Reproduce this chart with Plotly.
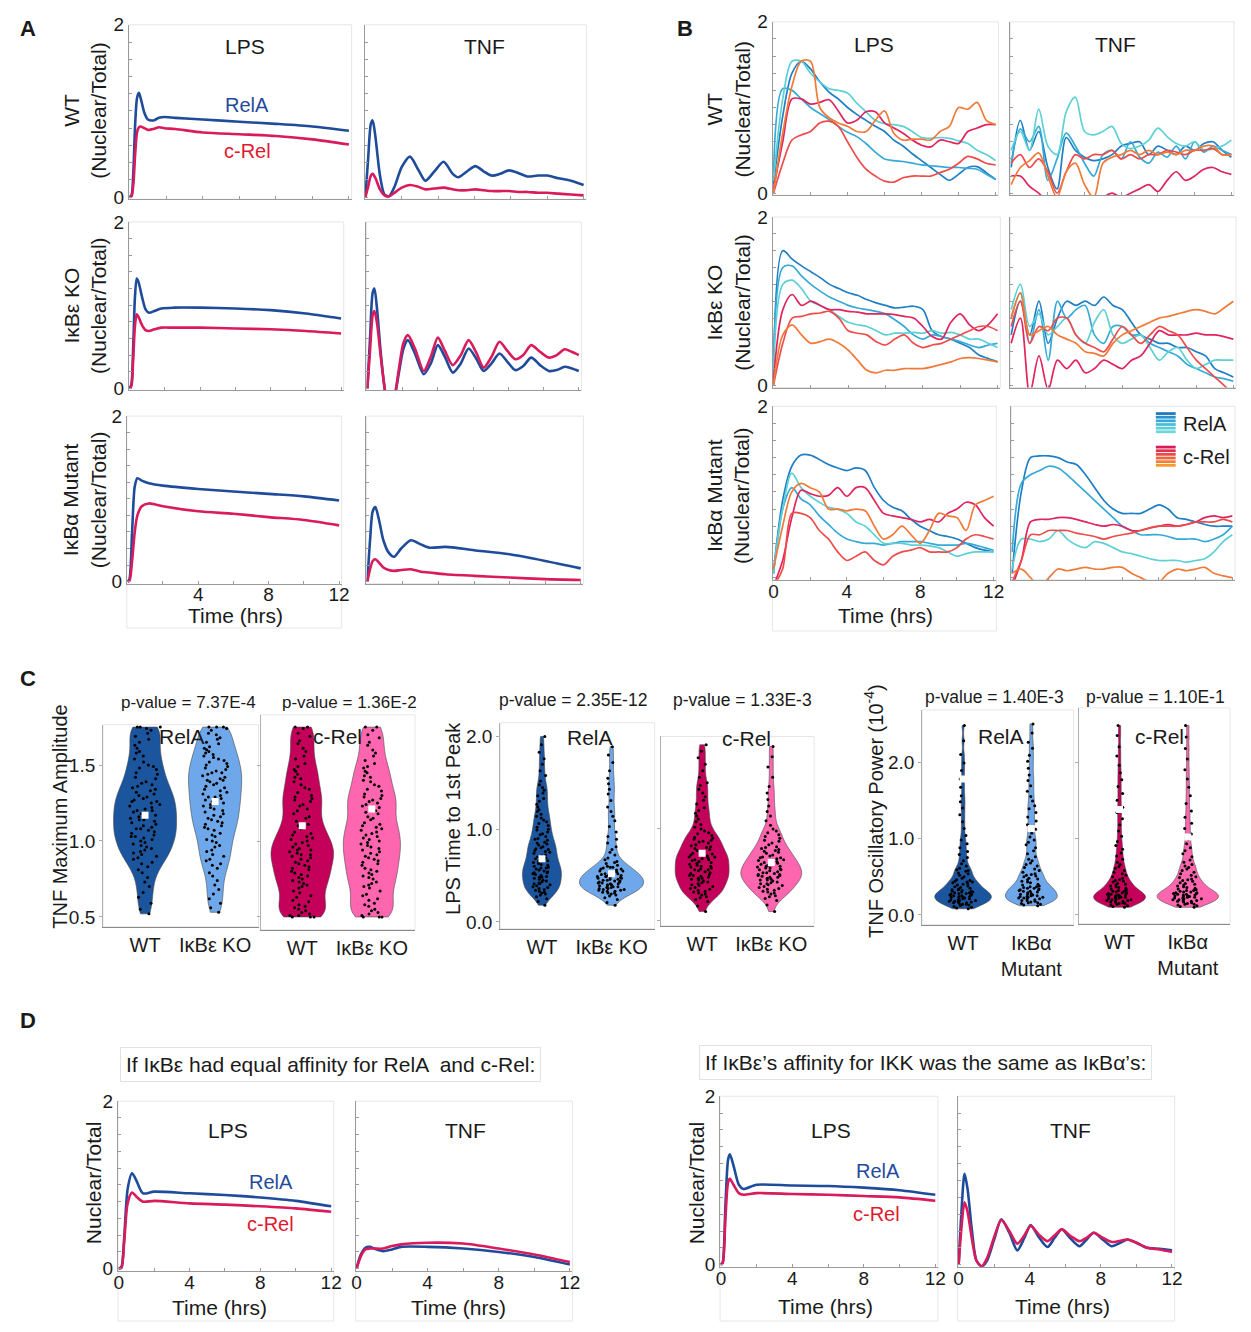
import plotly.graph_objects as go

W, H = 1251, 1332
FONT = "Liberation Sans, Arial, sans-serif"
INK = '#1a1a1a'
RELA_COLOR = '#1f4b9b'
CREL_COLOR = '#d91a5c'
CREL_TEXT = '#e0192f'
RELA_SHADES = ['#1f7fc4', '#35aad6', '#5dd0d6']
CREL_SHADES = ['#e0245e', '#ef4b4b', '#f27a38']
VIO_COLORS = {'rela_wt': '#1b559e', 'rela_mut': '#6fa8ea', 'crel_wt': '#c4005a', 'crel_mut': '#ff66b0'}

# ---------------- tick values / labels ----------------
Y_TICKS = [0, 0.2, 0.4, 0.6, 0.8, 1.0, 1.2, 1.4, 1.6, 1.8, 2.0]
Y_LABELS = ['0', '', '', '', '', '', '', '', '', '', '2']
Y_LABELS_TOP = ['', '', '', '', '', '', '', '', '', '', '2']
X_TICKS = [0, 2, 4, 6, 8, 10, 12]
X_LABELS_NO0 = ['', '', '4', '', '8', '', '12']
X_LABELS = ['0', '', '4', '', '8', '', '12']

# ---------------- Panel A : simulations ----------------
A_WT_LPS_T = [0, 0.1, 0.2, 0.3, 0.4, 0.5, 0.6, 0.8, 1.0, 1.3, 1.6, 1.9, 2.5, 4, 6, 8, 10, 12]
A_WT_LPS_RELA = [0, 0.02, 0.3, 0.85, 1.15, 1.21, 1.15, 0.98, 0.9, 0.89, 0.92, 0.93, 0.92, 0.9, 0.875, 0.85, 0.82, 0.77]
A_WT_LPS_CREL = [0, 0.01, 0.15, 0.5, 0.75, 0.81, 0.82, 0.8, 0.78, 0.79, 0.81, 0.8, 0.79, 0.75, 0.73, 0.71, 0.67, 0.61]

A_WT_TNF_T = [0, 0.15, 0.3, 0.4, 0.55, 0.8, 1.05, 1.3, 1.6, 2.0, 2.45, 2.9, 3.3, 3.8, 4.3, 4.8, 5.1, 5.6, 6.05, 6.5, 6.95, 7.4, 7.9, 8.4, 8.9, 9.5, 10, 10.6, 11.3, 12]
A_WT_TNF_RELA = [0, 0.45, 0.85, 0.89, 0.7, 0.25, 0.03, 0.01, 0.12, 0.35, 0.47, 0.32, 0.19, 0.3, 0.41, 0.27, 0.23, 0.3, 0.36, 0.3, 0.25, 0.27, 0.31, 0.28, 0.24, 0.25, 0.25, 0.22, 0.19, 0.14]
A_WT_TNF_CREL = [0, 0.12, 0.25, 0.27, 0.22, 0.09, 0.02, 0.01, 0.05, 0.11, 0.14, 0.12, 0.09, 0.1, 0.11, 0.09, 0.08, 0.08, 0.09, 0.08, 0.07, 0.07, 0.07, 0.06, 0.06, 0.05, 0.05, 0.04, 0.03, 0.02]

A_KO_LPS_T = [0, 0.1, 0.2, 0.3, 0.4, 0.5, 0.7, 0.9, 1.1, 1.4, 1.8, 2.5, 4, 6, 8, 10, 12]
A_KO_LPS_RELA = [0, 0.05, 0.5, 1.1, 1.32, 1.28, 1.1, 0.95, 0.91, 0.93, 0.96, 0.97, 0.97, 0.96, 0.94, 0.9, 0.84]
A_KO_LPS_CREL = [0, 0.03, 0.35, 0.75, 0.89, 0.86, 0.76, 0.7, 0.69, 0.71, 0.73, 0.73, 0.73, 0.72, 0.71, 0.69, 0.66]

A_KO_TNF_T = [0, 0.15, 0.3, 0.4, 0.55, 0.75, 0.95, 1.15, 1.35, 1.55, 1.8, 2.05, 2.3, 2.7, 3.2, 3.6, 4.0, 4.4, 4.85, 5.3, 5.75, 6.2, 6.6, 7.05, 7.5, 7.95, 8.4, 8.85, 9.3, 9.8, 10.3, 10.75, 11.2, 11.6, 12]
A_KO_TNF_RELA = [0, 0.6, 1.15, 1.2, 0.95, 0.45, 0.05, -0.2, -0.25, -0.1, 0.2, 0.48, 0.58, 0.42, 0.17, 0.3, 0.52, 0.38, 0.19, 0.3, 0.48, 0.35, 0.21, 0.3, 0.42, 0.32, 0.22, 0.27, 0.37, 0.28, 0.21, 0.22, 0.26, 0.24, 0.21]
A_KO_TNF_CREL = [0, 0.45, 0.88, 0.93, 0.78, 0.4, 0.05, -0.2, -0.25, -0.1, 0.25, 0.55, 0.64, 0.48, 0.21, 0.38, 0.61, 0.45, 0.28, 0.4, 0.58, 0.42, 0.25, 0.38, 0.56, 0.45, 0.35, 0.4, 0.52, 0.44, 0.37, 0.4, 0.47, 0.44, 0.4]

A_MUT_LPS_T = [0, 0.1, 0.25, 0.4, 0.55, 0.8, 1.2, 2, 4, 6, 8, 10, 12]
A_MUT_LPS_RELA = [0, 0.03, 0.6, 1.15, 1.25, 1.22, 1.19, 1.16, 1.12, 1.09, 1.06, 1.03, 0.98]
A_MUT_LPS_CREL = [0, 0.01, 0.25, 0.6, 0.8, 0.91, 0.945, 0.91, 0.85, 0.82, 0.78, 0.745, 0.68]

A_MUT_TNF_T = [0, 0.15, 0.3, 0.45, 0.65, 0.9, 1.2, 1.5, 1.9, 2.45, 3.0, 3.5, 4.4, 6, 8, 10, 12]
A_MUT_TNF_RELA = [0, 0.5, 0.85, 0.9, 0.75, 0.5, 0.35, 0.3, 0.4, 0.5, 0.45, 0.41, 0.42, 0.38, 0.33, 0.25, 0.16]
A_MUT_TNF_CREL = [0, 0.15, 0.25, 0.27, 0.23, 0.17, 0.14, 0.13, 0.14, 0.15, 0.12, 0.11, 0.09, 0.07, 0.05, 0.03, 0.02]

# ---------------- Panel B : single-cell traces ----------------
B_T = [0, 0.5, 1, 1.5, 2, 2.5, 3, 3.5, 4, 4.5, 5, 5.5, 6, 6.5, 7, 7.5, 8, 8.5, 9, 9.5, 10, 10.5, 11, 11.5, 12]

B_WT_LPS_RELA = [
    [0.1, 0.9, 1.4, 1.54, 1.45, 1.3, 1.18, 1.1, 1.0, 0.92, 0.85, 0.78, 0.72, 0.62, 0.55, 0.46, 0.38, 0.3, 0.22, 0.15, 0.22, 0.3, 0.31, 0.24, 0.16],
    [0.2, 1.22, 1.2, 1.1, 1.0, 0.93, 0.86, 0.78, 0.71, 0.66, 0.58, 0.48, 0.4, 0.38, 0.37, 0.35, 0.33, 0.32, 0.31, 0.3, 0.3, 0.29, 0.28, 0.22, 0.16],
    [0.15, 1.1, 1.54, 1.54, 1.4, 1.3, 1.22, 1.2, 1.17, 1.05, 0.95, 0.85, 0.81, 0.8, 0.78, 0.72, 0.65, 0.64, 0.65, 0.64, 0.61, 0.58, 0.5, 0.45, 0.38]]
B_WT_LPS_CREL = [
    [0.05, 0.6, 1.1, 1.1, 1.04, 1.06, 1.09, 0.96, 0.82, 0.85, 0.95, 0.95, 0.82, 0.76, 0.7, 0.62, 0.56, 0.54, 0.62, 0.6, 0.58, 0.72, 0.76, 0.8, 0.8],
    [0.0, 0.35, 0.62, 0.68, 0.72, 0.82, 0.84, 0.78, 0.6, 0.42, 0.28, 0.2, 0.14, 0.13, 0.18, 0.2, 0.2, 0.2, 0.24, 0.28, 0.35, 0.43, 0.4, 0.35, 0.33],
    [0.0, 0.7, 1.25, 1.54, 1.54, 1.0, 0.88, 0.82, 0.78, 0.72, 0.72, 0.85, 0.96, 0.7, 0.62, 0.63, 0.63, 0.62, 0.72, 0.78, 1.0, 0.98, 1.06, 0.85, 0.8]]

B_WT_TNF_RELA = [
    [0.3, 0.85, 0.5, 0.72, 0.3, 0.05, 0.65, 0.5, 0.42, 0.38, 0.4, 0.45, 0.55, 0.58, 0.6, 0.45, 0.55, 0.5, 0.45, 0.55, 0.5, 0.58, 0.6, 0.5, 0.42],
    [0.35, 0.75, 0.6, 0.78, 0.15, 0.4, 0.7, 0.55, 0.35, 0.2, 0.45, 0.5, 0.4, 0.6, 0.42, 0.35, 0.48, 0.42, 0.55, 0.4, 0.6, 0.48, 0.55, 0.5, 0.45],
    [0.5, 0.72, 0.5, 0.98, 0.55, 0.45, 0.95, 1.12, 0.72, 0.68, 0.72, 0.78, 0.58, 0.52, 0.55, 0.62, 0.76, 0.66, 0.58, 0.55, 0.6, 0.5, 0.52, 0.55, 0.62]]
B_WT_TNF_CREL = [
    [0.2, 0.2, 0.08, 0.0, -0.1, -0.05, -0.15, -0.1, -0.05, -0.1, -0.05, 0.0, -0.05, 0.0, 0.05, 0.1, 0.02, 0.15, 0.25, 0.15, 0.2, 0.28, 0.3, 0.25, 0.22],
    [0.35, 0.45, 0.3, 0.4, 0.25, 0.0, 0.25, 0.45, 0.4, 0.45, 0.45, 0.5, 0.4, 0.45, 0.4, 0.45, 0.45, 0.5, 0.48, 0.45, 0.5, 0.5, 0.52, 0.45, 0.45],
    [0.1, 0.3, 0.38, 0.47, 0.2, -0.05, 0.25, 0.35, 0.1, -0.05, 0.35, 0.42, 0.45, 0.5, 0.45, 0.5, 0.45, 0.48, 0.45, 0.5, 0.5, 0.55, 0.55, 0.45, 0.45]]

B_KO_LPS_RELA = [
    [0.1, 1.6, 1.5, 1.42, 1.35, 1.28, 1.2, 1.15, 1.1, 1.07, 1.02, 0.98, 0.95, 0.92, 0.93, 0.94, 0.9, 0.65, 0.58, 0.55, 0.5, 0.45, 0.36, 0.32, 0.28],
    [0.1, 1.4, 1.42, 1.3, 1.2, 1.12, 1.05, 1.0, 0.95, 0.92, 0.9, 0.88, 0.85, 0.78, 0.7, 0.6, 0.55, 0.6, 0.58, 0.55, 0.52, 0.48, 0.45, 0.48, 0.5],
    [0.1, 1.2, 1.25, 1.15, 1.0, 0.95, 0.9, 0.82, 0.75, 0.72, 0.7, 0.65, 0.6, 0.62, 0.62, 0.63, 0.62, 0.65, 0.62, 0.63, 0.6, 0.55, 0.55, 0.5, 0.45]]
B_KO_LPS_CREL = [
    [0.05, 0.9, 1.08, 0.95, 1.0, 0.95, 0.9, 0.9, 0.88, 0.87, 0.85, 0.85, 0.85, 0.84, 0.82, 0.8, 0.7, 0.58, 0.55, 0.75, 0.85, 0.72, 0.65, 0.72, 0.85],
    [0.0, 0.5, 0.8, 0.82, 0.85, 0.86, 0.88, 0.8, 0.65, 0.62, 0.6, 0.52, 0.48, 0.55, 0.6, 0.5, 0.45, 0.48, 0.5, 0.55, 0.6, 0.65, 0.7, 0.7, 0.65],
    [0.0, 0.6, 0.72, 0.6, 0.5, 0.52, 0.55, 0.5, 0.42, 0.3, 0.18, 0.15, 0.18, 0.18, 0.2, 0.2, 0.2, 0.22, 0.25, 0.28, 0.32, 0.33, 0.32, 0.3, 0.28]]

B_KO_TNF_RELA = [
    [0.6, 1.0, 0.6, 1.0, 0.5, 0.8, 1.0, 0.95, 1.0, 0.95, 1.05, 0.95, 0.9, 0.75, 0.6, 0.55, 0.5, 0.5, 0.45, 0.45, 0.4, 0.35, 0.2, 0.15, 0.1],
    [0.8, 1.1, 0.5, 0.9, 0.3, 1.0, 0.8, 0.9, 0.95, 0.6, 0.5, 0.7, 0.7, 0.6, 0.6, 0.5, 0.45, 0.4, 0.35, 0.25, 0.2, 0.15, 0.1, 0.08, 0.05],
    [0.9, 1.2, 0.7, 0.85, 0.6, 0.7, 0.8, 0.6, 0.5, 0.75, 0.9, 0.6, 0.5, 0.55, 0.6, 0.45, 0.3, 0.4, 0.45, 0.3, 0.2, 0.25, 0.3, 0.3, 0.3]]
B_KO_TNF_CREL = [
    [0.5, 0.8, -0.1, 0.35, -0.05, 0.3, 0.2, 0.3, 0.15, 0.2, 0.3, 0.25, 0.2, 0.3, 0.35, 0.5, 0.65, 0.6, 0.6, 0.6, 0.62, 0.6, 0.6, 0.58, 0.55],
    [0.7, 1.0, 0.5, 0.7, 0.65, 0.8, 0.8, 0.6, 0.5, 0.45, 0.4, 0.55, 0.7, 0.6, 0.5, 0.6, 0.7, 0.65, 0.6, 0.45, 0.3, 0.2, 0.1, 0.0, -0.1],
    [0.8, 1.1, 0.6, 0.65, 0.7, 0.6, 0.55, 0.5, 0.4, 0.38, 0.35, 0.5, 0.6, 0.65, 0.7, 0.75, 0.8, 0.82, 0.85, 0.88, 0.9, 0.88, 0.85, 0.92, 1.0]]

B_MUT_LPS_RELA = [
    [0.05, 0.9, 1.3, 1.43, 1.43, 1.38, 1.32, 1.28, 1.25, 1.28, 1.25, 1.05, 0.9, 0.82, 0.78, 0.68, 0.6, 0.55, 0.5, 0.48, 0.45, 0.4, 0.35, 0.32, 0.3],
    [0.05, 0.8, 1.05, 0.92, 0.85, 0.72, 0.62, 0.52, 0.45, 0.42, 0.4, 0.4, 0.38, 0.4, 0.42, 0.42, 0.42, 0.4, 0.38, 0.38, 0.38, 0.4, 0.38, 0.35, 0.32],
    [0.05, 0.8, 1.22, 1.05, 0.95, 0.88, 0.82, 0.8, 0.75, 0.65, 0.6, 0.5, 0.4, 0.4, 0.4, 0.38, 0.38, 0.37, 0.35, 0.3, 0.25, 0.28, 0.3, 0.3, 0.3]]
B_MUT_LPS_CREL = [
    [-0.1, 0.2, 0.7, 1.02, 0.98, 0.95, 0.96, 1.05, 0.95, 1.05, 1.05, 0.9, 0.75, 0.72, 0.7, 0.68, 0.65, 0.68, 0.65, 0.75, 0.8, 0.88, 0.85, 0.7, 0.6],
    [-0.1, 0.1, 0.75, 0.75, 0.7, 0.55, 0.45, 0.3, 0.2, 0.25, 0.3, 0.2, 0.15, 0.25, 0.3, 0.32, 0.35, 0.3, 0.3, 0.3, 0.35, 0.45, 0.5, 0.48, 0.45],
    [0.1, 0.6, 1.0, 1.1, 1.05, 1.0, 0.8, 0.8, 0.78, 0.8, 0.78, 0.6, 0.45, 0.5, 0.6, 0.5, 0.4, 0.55, 0.75, 0.72, 0.7, 0.55, 0.85, 0.9, 0.95]]

B_MUT_TNF_RELA = [
    [0.05, 1.0, 1.4, 1.42, 1.42, 1.4, 1.35, 1.32, 1.2, 1.05, 0.9, 0.8, 0.75, 0.75, 0.75, 0.8, 0.85, 0.8, 0.7, 0.68, 0.65, 0.62, 0.6, 0.6, 0.6],
    [0.3, 1.1, 1.2, 1.25, 1.3, 1.28, 1.2, 1.1, 1.0, 0.9, 0.8, 0.7, 0.6, 0.55, 0.5, 0.5, 0.5, 0.48, 0.45, 0.45, 0.45, 0.42, 0.45, 0.5, 0.6],
    [0.1, 0.45, 0.45, 0.42, 0.45, 0.55, 0.45, 0.38, 0.35, 0.42, 0.4, 0.35, 0.3, 0.28, 0.25, 0.22, 0.2, 0.2, 0.2, 0.18, 0.2, 0.22, 0.3, 0.42, 0.5]]
B_MUT_TNF_CREL = [
    [-0.1, 0.2, 0.65, 0.68, 0.68, 0.7, 0.7, 0.68, 0.65, 0.62, 0.6, 0.62, 0.6, 0.55, 0.55, 0.58, 0.6, 0.62, 0.6, 0.62, 0.65, 0.7, 0.72, 0.7, 0.72],
    [-0.05, 0.2, 0.5, 0.5, 0.55, 0.55, 0.55, 0.52, 0.5, 0.48, 0.45, 0.48, 0.5, 0.52, 0.55, 0.58, 0.6, 0.6, 0.6, 0.62, 0.65, 0.65, 0.65, 0.68, 0.65],
    [0.05, 0.1, 0.0, -0.1, 0.0, 0.1, 0.08, 0.1, 0.12, 0.1, 0.1, 0.12, 0.12, 0.05, 0.0, -0.05, -0.05, 0.05, 0.1, 0.08, 0.1, 0.12, 0.05, 0.02, 0.0]]

# ---------------- Panel C : per-cell features (values x100) ----------------
VALUE_SCALE = 100
AMP_RELA_WT = [52, 55, 59, 63, 66, 70, 73, 76, 79, 81, 83, 85, 86, 88, 89, 90, 91, 92, 93, 94, 95, 96, 97, 98, 99, 100, 101, 102, 103, 103, 104, 105, 106, 107, 108, 108, 109, 110, 111, 112, 113, 114, 114, 115, 116, 117, 118, 119, 120, 120, 121, 122, 123, 124, 125, 126, 126, 127, 128, 129, 130, 131, 132, 133, 134, 135, 136, 137, 138, 139, 141, 142, 144, 145, 147, 148, 149, 150, 152, 154, 156, 158, 159, 161, 163, 165, 167, 169, 171, 173, 174, 175, 175, 175]
AMP_RELA_KO = [53, 56, 59, 62, 65, 68, 71, 74, 77, 79, 82, 84, 85, 87, 88, 90, 91, 93, 94, 96, 97, 99, 100, 101, 103, 104, 105, 107, 108, 109, 110, 111, 112, 113, 114, 115, 116, 117, 118, 119, 120, 121, 122, 123, 124, 125, 126, 127, 128, 129, 129, 130, 131, 132, 133, 134, 135, 136, 137, 138, 139, 140, 140, 141, 142, 143, 144, 145, 145, 146, 147, 148, 149, 150, 151, 152, 153, 154, 155, 156, 157, 158, 159, 160, 161, 162, 164, 165, 167, 168, 170, 171, 173, 174, 175, 175, 175]
AMP_CREL_WT = [50, 50, 50, 51, 51, 52, 53, 54, 55, 56, 57, 58, 60, 61, 63, 64, 66, 67, 69, 70, 71, 72, 73, 74, 75, 76, 77, 78, 79, 80, 81, 82, 83, 84, 85, 86, 87, 88, 89, 90, 91, 91, 92, 93, 94, 94, 95, 96, 97, 98, 99, 100, 101, 102, 103, 104, 105, 106, 108, 109, 110, 111, 113, 115, 116, 118, 120, 121, 123, 124, 126, 127, 128, 129, 130, 132, 134, 135, 137, 139, 141, 142, 144, 146, 147, 149, 151, 154, 156, 159, 161, 164, 166, 169, 171, 174, 175, 175]
AMP_CREL_KO = [50, 50, 50, 51, 52, 53, 54, 55, 57, 58, 59, 61, 62, 64, 65, 67, 69, 70, 71, 72, 73, 75, 76, 77, 78, 79, 80, 81, 82, 84, 85, 86, 87, 88, 89, 90, 91, 92, 93, 94, 95, 96, 97, 98, 99, 100, 101, 102, 103, 104, 105, 106, 107, 108, 109, 110, 111, 112, 114, 115, 116, 118, 119, 120, 122, 123, 124, 125, 126, 127, 128, 129, 130, 131, 133, 134, 136, 137, 139, 140, 142, 143, 145, 146, 148, 149, 151, 153, 156, 158, 160, 163, 165, 168, 170, 173, 175, 175]

LPS_RELA_WT = [18, 22, 25, 27, 29, 30, 31, 32, 33, 34, 35, 36, 37, 38, 39, 40, 41, 41, 42, 43, 44, 45, 46, 47, 48, 48, 49, 50, 51, 52, 53, 53, 54, 55, 56, 57, 58, 58, 59, 60, 61, 62, 63, 64, 65, 66, 67, 68, 69, 70, 71, 72, 74, 75, 76, 77, 78, 79, 80, 81, 83, 84, 85, 86, 88, 89, 90, 92, 94, 95, 97, 99, 100, 102, 104, 106, 108, 110, 112, 114, 116, 119, 121, 124, 127, 130, 133, 136, 139, 142, 145, 148, 152, 158, 163, 170, 176, 183, 191, 200]
LPS_RELA_KO = [18, 21, 24, 26, 28, 29, 30, 31, 31, 32, 33, 33, 34, 34, 35, 35, 36, 36, 37, 37, 38, 38, 39, 39, 40, 40, 41, 41, 42, 42, 43, 43, 44, 44, 45, 45, 46, 46, 47, 47, 48, 48, 49, 49, 49, 50, 50, 51, 52, 52, 53, 54, 55, 55, 56, 57, 57, 58, 59, 59, 60, 61, 63, 64, 65, 67, 69, 72, 75, 78, 81, 85, 89, 92, 97, 103, 109, 114, 119, 124, 131, 138, 143, 149, 155, 163, 172, 180, 189]
LPS_CREL_WT = [10, 16, 21, 23, 25, 26, 28, 29, 30, 31, 32, 33, 34, 35, 36, 37, 38, 39, 40, 41, 42, 43, 44, 45, 46, 46, 47, 48, 49, 49, 50, 51, 52, 53, 54, 55, 55, 56, 57, 58, 59, 59, 60, 61, 62, 63, 64, 65, 66, 66, 67, 68, 69, 69, 70, 71, 72, 73, 74, 75, 76, 77, 78, 79, 80, 81, 82, 84, 85, 86, 87, 88, 89, 90, 92, 94, 95, 97, 99, 101, 104, 107, 110, 113, 116, 119, 122, 126, 130, 134, 138, 142, 146, 149, 155, 162, 169, 176, 183, 190]
LPS_CREL_KO = [10, 17, 22, 24, 26, 27, 29, 30, 31, 32, 33, 34, 35, 36, 37, 38, 39, 40, 40, 41, 42, 43, 44, 44, 45, 46, 47, 47, 48, 49, 49, 50, 50, 51, 52, 52, 53, 54, 55, 55, 56, 57, 57, 58, 59, 59, 60, 61, 62, 63, 64, 64, 65, 66, 67, 68, 68, 69, 70, 71, 73, 74, 75, 76, 77, 78, 79, 80, 82, 84, 86, 87, 89, 91, 93, 95, 97, 99, 103, 108, 113, 118, 124, 131, 138, 145, 155, 166, 177, 188]

OSC_RELA_WT = [8, 9, 10, 11, 12, 13, 14, 14, 15, 16, 16, 17, 17, 18, 18, 19, 19, 20, 20, 21, 21, 22, 22, 23, 23, 24, 24, 25, 25, 26, 26, 27, 27, 28, 28, 29, 29, 30, 30, 31, 31, 32, 33, 33, 34, 35, 36, 37, 38, 39, 40, 41, 42, 43, 43, 44, 45, 46, 48, 50, 52, 54, 55, 57, 58, 59, 61, 64, 67, 71, 75, 79, 83, 88, 93, 98, 104, 113, 122, 131, 140, 148, 156, 167, 178, 189, 199, 210, 228, 248]
OSC_RELA_MUT = [12, 13, 14, 15, 16, 16, 17, 18, 19, 19, 20, 21, 21, 22, 22, 23, 23, 24, 24, 25, 25, 26, 27, 27, 28, 29, 30, 31, 31, 32, 33, 33, 34, 35, 35, 36, 37, 37, 38, 39, 40, 42, 43, 44, 46, 47, 48, 50, 51, 52, 53, 54, 56, 58, 60, 62, 64, 66, 68, 71, 73, 76, 80, 84, 88, 92, 95, 98, 102, 107, 112, 118, 123, 128, 134, 139, 143, 149, 155, 162, 169, 176, 183, 192, 201, 209, 218, 226, 238, 250]
OSC_CREL_WT = [10, 11, 12, 13, 14, 15, 15, 16, 17, 17, 18, 18, 19, 19, 20, 20, 21, 21, 22, 22, 23, 23, 24, 24, 25, 25, 26, 26, 27, 27, 28, 28, 29, 29, 30, 31, 31, 32, 33, 34, 35, 36, 37, 38, 39, 40, 41, 43, 44, 45, 46, 48, 50, 52, 54, 56, 58, 61, 63, 66, 69, 73, 77, 81, 86, 91, 96, 103, 110, 118, 126, 134, 141, 150, 159, 168, 177, 186, 196, 208, 220, 235, 248]
OSC_CREL_MUT = [10, 11, 12, 13, 14, 14, 15, 16, 17, 18, 18, 19, 19, 20, 20, 21, 21, 22, 22, 23, 23, 24, 24, 25, 25, 26, 26, 27, 27, 28, 28, 29, 29, 30, 30, 31, 32, 32, 33, 34, 35, 36, 37, 38, 39, 40, 41, 42, 44, 45, 46, 47, 49, 50, 52, 54, 56, 58, 60, 62, 64, 66, 69, 72, 76, 80, 84, 88, 93, 99, 106, 113, 120, 128, 136, 146, 156, 167, 178, 190, 204, 218, 233, 248]

AMP_MARKS = [1.17, 1.26, 1.10, 1.21]
LPS_MARKS = [0.68, 0.52, 0.73, 0.63]
OSC_MARKS = [1.78, 1.13, 1.38, 1.02]
P_AMP = ['p-value = 7.37E-4', 'p-value = 1.36E-2']
P_LPS = ['p-value = 2.35E-12', 'p-value = 1.33E-3']
P_OSC = ['p-value = 1.40E-3', 'p-value = 1.10E-1']
CAT_KO = ['WT', 'I\u03baB\u03b5 KO']
CAT_MUT = ['WT', 'I\u03baB\u03b1<br>Mutant']

# ---------------- Panel D : model variants ----------------
D1_LPS_T = [0, 0.15, 0.3, 0.5, 0.75, 1.0, 1.37, 2, 4, 6, 8, 10, 12]
D1_LPS_RELA = [0, 0.02, 0.35, 0.95, 1.14, 1.05, 0.9, 0.92, 0.9, 0.88, 0.85, 0.81, 0.745]
D1_LPS_CREL = [0, 0.01, 0.3, 0.78, 0.91, 0.86, 0.8, 0.81, 0.78, 0.765, 0.745, 0.72, 0.68]
D1_TNF_T = [0, 0.25, 0.5, 0.75, 1.0, 1.5, 2.0, 2.5, 4, 6, 8, 10, 12]
D1_TNF_RELA = [0, 0.17, 0.25, 0.26, 0.24, 0.21, 0.23, 0.26, 0.26, 0.24, 0.2, 0.14, 0.05]
D1_TNF_CREL = [0, 0.15, 0.23, 0.24, 0.24, 0.24, 0.27, 0.29, 0.31, 0.3, 0.24, 0.17, 0.08]
D2_LPS_T = [0, 0.1, 0.25, 0.4, 0.5, 0.7, 1.0, 1.26, 2, 4, 6, 8, 10, 12]
D2_LPS_RELA = [0, 0.03, 0.7, 1.25, 1.31, 1.18, 0.95, 0.9, 0.95, 0.94, 0.935, 0.915, 0.885, 0.83]
D2_LPS_CREL = [0, 0.02, 0.55, 0.98, 1.02, 0.95, 0.85, 0.83, 0.85, 0.84, 0.83, 0.815, 0.8, 0.76]
D2_TNF_T = [0, 0.15, 0.33, 0.5, 0.75, 1.0, 1.3, 1.6, 2.0, 2.4, 2.85, 3.3, 3.7, 4.05, 4.5, 5.0, 5.4, 5.8, 6.3, 6.8, 7.2, 7.6, 8.1, 8.6, 9.0, 9.5, 10.0, 10.6, 11.3, 12]
D2_TNF_RELA = [0, 0.6, 1.08, 0.9, 0.4, 0.05, -0.02, 0.05, 0.3, 0.54, 0.38, 0.17, 0.32, 0.47, 0.33, 0.21, 0.32, 0.42, 0.31, 0.22, 0.3, 0.38, 0.3, 0.22, 0.25, 0.3, 0.26, 0.2, 0.19, 0.17]
D2_TNF_CREL = [0, 0.42, 0.74, 0.63, 0.3, 0.05, -0.02, 0.08, 0.33, 0.53, 0.4, 0.25, 0.35, 0.46, 0.36, 0.28, 0.35, 0.42, 0.34, 0.28, 0.32, 0.38, 0.32, 0.27, 0.28, 0.3, 0.26, 0.2, 0.18, 0.15]

# =====================================================================
fig = go.Figure()
layout = dict(width=W, height=H, margin=dict(l=0, r=0, t=0, b=0),
              paper_bgcolor='white', plot_bgcolor='white', showlegend=False,
              font=dict(family=FONT, size=19, color=INK), violinmode='overlay')
annotations = []
shapes = []
_axn = [0]
AX_GRAY = '#9a9a9a'
TICK_FONT = 19
TITLE_FONT = 21
LABEL_FONT = 21


def px_x(x):
    return x / W


def px_y(y):
    return 1 - y / H


def new_axes(x0, x1, y0, y1, xa, ya, frame_bottom=None, frame=True):
    _axn[0] += 1
    n = _axn[0]
    s = '' if n == 1 else str(n)
    xa = dict(xa)
    ya = dict(ya)
    xa.update(domain=[px_x(x0), px_x(x1)], anchor='y' + s)
    ya.update(domain=[px_y(y1), px_y(y0)], anchor='x' + s)
    layout['xaxis' + s] = xa
    layout['yaxis' + s] = ya
    if frame:
        fb = y1 if frame_bottom is None else frame_bottom
        shapes.append(dict(type='rect', xref='paper', yref='paper', x0=px_x(x0), x1=px_x(x1),
                           y0=px_y(fb), y1=px_y(y0), line=dict(color='#e6e6e6', width=1), layer='below'))
    return 'x' + s, 'y' + s


def text(x, y, s, size=19, color=INK, angle=0, xanchor='center', bold=False, **kw):
    if bold:
        s = '<b>' + s + '</b>'
    d = dict(x=px_x(x), y=px_y(y), xref='paper', yref='paper', text=s, showarrow=False,
             font=dict(size=size, color=color, family=FONT), textangle=angle,
             xanchor=xanchor, yanchor='middle')
    d.update(kw)
    annotations.append(d)


def line_axes(ylabels, xlabels):
    xa = dict(range=[-0.05, 12.15], tickvals=X_TICKS, ticktext=xlabels, ticks='inside', ticklen=3,
              tickcolor=AX_GRAY, showline=True, linecolor=AX_GRAY, linewidth=1, showgrid=False,
              zeroline=False, tickfont=dict(size=TICK_FONT, color=INK), fixedrange=True,
              ticklabelstandoff=-6)
    ya = dict(range=[-0.025, 2.0], tickvals=Y_TICKS, ticktext=ylabels, ticks='inside', ticklen=3,
              tickcolor=AX_GRAY, showline=True, linecolor=AX_GRAY, linewidth=1, showgrid=False,
              zeroline=False, tickfont=dict(size=TICK_FONT, color=INK), fixedrange=True)
    return xa, ya


def line_panel(box, series, ylabels, xlabels, width=2.6, smoothing=0.75, frame_bottom=None):
    x0, x1, y0, y1 = box
    xa, ya = line_axes(ylabels, xlabels)
    xr, yr = new_axes(x0, x1, y0, y1, xa, ya, frame_bottom)
    for t, v, c in series:
        fig.add_trace(go.Scatter(x=t[:len(v)], y=v, mode='lines', xaxis=xr, yaxis=yr, hoverinfo='skip',
                                 line=dict(color=c, width=width, shape='spline', smoothing=smoothing)))


BLANK_Y = [''] * len(Y_TICKS)
BLANK_X = [''] * len(X_TICKS)

# ---------------- Panel A ----------------
text(14, 19, 'A', size=22, bold=True, xanchor='left')
line_panel((126, 351, 15, 192), [(A_WT_LPS_T, A_WT_LPS_RELA, RELA_COLOR), (A_WT_LPS_T, A_WT_LPS_CREL, CREL_COLOR)], Y_LABELS, BLANK_X)
line_panel((364, 588, 15, 192), [(A_WT_TNF_T, A_WT_TNF_RELA, RELA_COLOR), (A_WT_TNF_T, A_WT_TNF_CREL, CREL_COLOR)], BLANK_Y, BLANK_X)
line_panel((126, 343, 215, 386), [(A_KO_LPS_T, A_KO_LPS_RELA, RELA_COLOR), (A_KO_LPS_T, A_KO_LPS_CREL, CREL_COLOR)], Y_LABELS, BLANK_X)
line_panel((366, 583, 215, 386), [(A_KO_TNF_T, A_KO_TNF_RELA, RELA_COLOR), (A_KO_TNF_T, A_KO_TNF_CREL, CREL_COLOR)], BLANK_Y, BLANK_X)
line_panel((124, 341, 412, 582), [(A_MUT_LPS_T, A_MUT_LPS_RELA, RELA_COLOR), (A_MUT_LPS_T, A_MUT_LPS_CREL, CREL_COLOR)], Y_LABELS, X_LABELS_NO0, frame_bottom=627)
line_panel((366, 585, 412, 582), [(A_MUT_TNF_T, A_MUT_TNF_RELA, RELA_COLOR), (A_MUT_TNF_T, A_MUT_TNF_CREL, CREL_COLOR)], BLANK_Y, BLANK_X)
text(243, 37, 'LPS', size=TITLE_FONT)
text(485, 37, 'TNF', size=TITLE_FONT)
text(245, 96, 'RelA', size=20, color=RELA_COLOR)
text(246, 143, 'c-Rel', size=20, color=CREL_TEXT)
text(234, 614, 'Time (hrs)', size=LABEL_FONT)
text(81, 102, 'WT<br>(Nuclear/Total)', size=LABEL_FONT, angle=-90)
text(81, 300, 'I\u03baB\u03b5 KO<br>(Nuclear/Total)', size=LABEL_FONT, angle=-90)
text(81, 497, 'I\u03baB\u03b1 Mutant<br>(Nuclear/Total)', size=LABEL_FONT, angle=-90)

# ---------------- Panel B ----------------
text(677, 19, 'B', size=22, bold=True, xanchor='left')


def b_series(rela, crel):
    out = [(B_T, v, RELA_SHADES[i]) for i, v in enumerate(rela)]
    out += [(B_T, v, CREL_SHADES[i]) for i, v in enumerate(crel)]
    return out


line_panel((776, 1004, 12, 188), b_series(B_WT_LPS_RELA, B_WT_LPS_CREL), Y_LABELS, BLANK_X, width=1.7, smoothing=0.9)
line_panel((1016, 1242, 12, 188), b_series(B_WT_TNF_RELA, B_WT_TNF_CREL), BLANK_Y, BLANK_X, width=1.7, smoothing=0.9)
line_panel((776, 1006, 210, 383), b_series(B_KO_LPS_RELA, B_KO_LPS_CREL), Y_LABELS, BLANK_X, width=1.7, smoothing=0.9)
line_panel((1016, 1244, 210, 383), b_series(B_KO_TNF_RELA, B_KO_TNF_CREL), BLANK_Y, BLANK_X, width=1.7, smoothing=0.9)
line_panel((776, 1002, 402, 578), b_series(B_MUT_LPS_RELA, B_MUT_LPS_CREL), Y_LABELS_TOP, X_LABELS, width=1.7, smoothing=0.9, frame_bottom=630)
line_panel((1017, 1243, 402, 578), b_series(B_MUT_TNF_RELA, B_MUT_TNF_CREL), BLANK_Y, BLANK_X, width=1.7, smoothing=0.9)
text(878, 35, 'LPS', size=TITLE_FONT)
text(1122, 35, 'TNF', size=TITLE_FONT)
text(890, 614, 'Time (hrs)', size=LABEL_FONT)
text(731, 100, 'WT<br>(Nuclear/Total)', size=LABEL_FONT, angle=-90)
text(731, 296, 'I\u03baB\u03b5 KO<br>(Nuclear/Total)', size=LABEL_FONT, angle=-90)
text(731, 492, 'I\u03baB\u03b1 Mutant<br>(Nuclear/Total)', size=LABEL_FONT, angle=-90)

# legend with striped swatches
RELA_STRIPES = ['#1f78c0', '#2a90cc', '#39a8d4', '#48bcd8', '#5acdd8', '#6ad8d8']
CREL_STRIPES = ['#d81b5a', '#e2304f', '#ea4a45', '#ef643c', '#f28035', '#f49a30']
for top, stripes in ((408, RELA_STRIPES), (442, CREL_STRIPES)):
    for i, c in enumerate(stripes):
        shapes.append(dict(type='rect', xref='paper', yref='paper', x0=px_x(1163), x1=px_x(1183),
                           y0=px_y(top + i * 3.7 + 2.8), y1=px_y(top + i * 3.7), line=dict(width=0), fillcolor=c))
text(1188, 420, 'RelA', size=20, xanchor='left')
text(1188, 453, 'c-Rel', size=20, xanchor='left')

# ---------------- Panel C ----------------
text(14, 678, 'C', size=22, bold=True, xanchor='left')


def vio_axes(yrange, yticks, ylabels, cats, xrange=(-0.6, 1.62)):
    xa = dict(type='linear', range=list(xrange), tickvals=[0, 1], ticktext=cats, ticks='', showline=True,
              linecolor='#8a8a8a', linewidth=1, showgrid=False, zeroline=False,
              tickfont=dict(size=20, color=INK), fixedrange=True)
    ya = dict(range=list(yrange), tickvals=yticks, ticktext=ylabels, ticks='outside', ticklen=3,
              tickcolor='#aaaaaa', showline=True, linecolor='#b0b0b0', linewidth=1, showgrid=False,
              zeroline=False, tickfont=dict(size=19, color=INK), fixedrange=True)
    return xa, ya


def violin_pair(box, yrange, yticks, ylabels, cats, data, colors, widths, marks, bw, tag):
    x0, x1, y0, y1 = box
    xa, ya = vio_axes(yrange, yticks, ylabels, cats)
    xr, yr = new_axes(x0, x1, y0, y1, xa, ya)
    for pos, (vals, col, wd) in enumerate(zip(data, colors, widths)):
        fig.add_trace(go.Violin(
            y=[v / VALUE_SCALE for v in vals], x0=pos, xaxis=xr, yaxis=yr, orientation='v',
            fillcolor=col, line=dict(color='#4a4a4a', width=0.6), opacity=1,
            points='all', jitter=0.5, pointpos=0, marker=dict(color='black', size=3),
            spanmode='hard', bandwidth=bw, width=wd, scalemode='width', scalegroup=tag + str(pos),
            box_visible=False, meanline_visible=False, hoverinfo='skip', name=tag + str(pos)))
    fig.add_trace(go.Scatter(x=[0, 1], y=marks, mode='markers', xaxis=xr, yaxis=yr, hoverinfo='skip',
                             marker=dict(symbol='square', size=7, color='white', line=dict(width=0))))


AMP_TICKS = [0.5, 1.0, 1.5]
AMP_TLAB = ['0.5', '1.0', '1.5']
LPS_TICKS = [0.0, 1.0, 2.0]
LPS_TLAB = ['0.0', '1.0', '2.0']
OSC_TICKS = [0.0, 1.0, 2.0]
OSC_TLAB = ['0.0', '1.0', '2.0']

# C1 : TNF max amplitude
violin_pair((100, 257, 725, 930), (0.435, 1.766), AMP_TICKS, AMP_TLAB, CAT_KO,
            [AMP_RELA_WT, AMP_RELA_KO], [VIO_COLORS['rela_wt'], VIO_COLORS['rela_mut']], [0.9, 0.76],
            AMP_MARKS[:2], 0.07, 'amp_rela')
violin_pair((259, 415, 715, 933), (0.416, 1.831), AMP_TICKS, ['', '', ''], CAT_KO,
            [AMP_CREL_WT, AMP_CREL_KO], [VIO_COLORS['crel_wt'], VIO_COLORS['crel_mut']], [0.9, 0.82],
            AMP_MARKS[2:], 0.07, 'amp_crel')
text(186, 703, P_AMP[0], size=17)
text(349, 703, P_AMP[1], size=17)
text(180, 737, 'RelA', size=21)
text(337, 737, 'c-Rel', size=21)
text(57, 818, 'TNF Maximum Amplitude', size=20, angle=-90)

# C2 : LPS time to first peak
violin_pair((501, 657, 723, 932), (-0.074, 2.149), LPS_TICKS, LPS_TLAB, CAT_KO,
            [LPS_RELA_WT, LPS_RELA_KO], [VIO_COLORS['rela_wt'], VIO_COLORS['rela_mut']], [0.56, 0.92],
            LPS_MARKS[:2], 0.06, 'lps_rela')
violin_pair((663, 818, 737, 929), (-0.053, 1.989), LPS_TICKS, ['', '', ''], CAT_KO,
            [LPS_CREL_WT, LPS_CREL_KO], [VIO_COLORS['crel_wt'], VIO_COLORS['crel_mut']], [0.78, 0.88],
            LPS_MARKS[2:], 0.065, 'lps_crel')
text(575, 700, P_LPS[0], size=17.5)
text(746, 700, P_LPS[1], size=17.5)
text(592, 738, 'RelA', size=21)
text(750, 739, 'c-Rel', size=21)
text(454, 820, 'LPS Time to 1st Peak', size=20, angle=-90)

# C3 : TNF oscillatory power
violin_pair((927, 1080, 710, 928), (-0.129, 2.684), OSC_TICKS, OSC_TLAB, CAT_MUT,
            [OSC_RELA_WT, OSC_RELA_MUT], [VIO_COLORS['rela_wt'], VIO_COLORS['rela_mut']], [0.83, 0.76],
            OSC_MARKS[:2], 0.06, 'osc_rela')
violin_pair((1085, 1238, 708, 927), (-0.116, 2.71), OSC_TICKS, ['', '', ''], CAT_MUT,
            [OSC_CREL_WT, OSC_CREL_MUT], [VIO_COLORS['crel_wt'], VIO_COLORS['crel_mut']], [0.76, 0.9],
            OSC_MARKS[2:], 0.06, 'osc_crel')
text(1000, 697, P_OSC[0], size=17.5)
text(1163, 697, P_OSC[1], size=17.5)
text(1007, 737, 'RelA', size=21)
text(1167, 737, 'c-Rel', size=21)
text(878, 813, 'TNF Oscillatory Power (10<sup>-4</sup>)', size=20, angle=-90)

# ---------------- Panel D ----------------
text(14, 1025, 'D', size=22, bold=True, xanchor='left')
text(330, 1070, 'If I\u03baB\u03b5 had equal affinity for RelA  and c-Rel:', size=21,
     bordercolor='#e2e2e2', borderwidth=1, borderpad=5)
text(930, 1068, 'If I\u03baB\u03b5\u2019s affinity for IKK was the same as I\u03baB\u03b1\u2019s:', size=21,
     bordercolor='#e2e2e2', borderwidth=1, borderpad=5)
line_panel((115, 333, 1107, 1279), [(D1_LPS_T, D1_LPS_RELA, RELA_COLOR), (D1_LPS_T, D1_LPS_CREL, CREL_COLOR)], Y_LABELS, X_LABELS, frame_bottom=1330)
line_panel((355, 574, 1107, 1279), [(D1_TNF_T, D1_TNF_RELA, RELA_COLOR), (D1_TNF_T, D1_TNF_CREL, CREL_COLOR)], BLANK_Y, X_LABELS, frame_bottom=1330)
line_panel((723, 943, 1102, 1275), [(D2_LPS_T, D2_LPS_RELA, RELA_COLOR), (D2_LPS_T, D2_LPS_CREL, CREL_COLOR)], Y_LABELS, X_LABELS, frame_bottom=1330)
line_panel((963, 1182, 1102, 1275), [(D2_TNF_T, D2_TNF_RELA, RELA_COLOR), (D2_TNF_T, D2_TNF_CREL, CREL_COLOR)], BLANK_Y, X_LABELS, frame_bottom=1330)
text(226, 1137, 'LPS', size=TITLE_FONT)
text(466, 1137, 'TNF', size=TITLE_FONT)
text(835, 1137, 'LPS', size=TITLE_FONT)
text(1077, 1137, 'TNF', size=TITLE_FONT)
text(270, 1189, 'RelA', size=20, color=RELA_COLOR)
text(269, 1232, 'c-Rel', size=20, color=CREL_TEXT)
text(882, 1178, 'RelA', size=20, color=RELA_COLOR)
text(881, 1221, 'c-Rel', size=20, color=CREL_TEXT)
text(90, 1190, 'Nuclear/Total', size=LABEL_FONT, angle=-90)
text(699, 1190, 'Nuclear/Total', size=LABEL_FONT, angle=-90)
text(218, 1316, 'Time (hrs)', size=LABEL_FONT)
text(459, 1316, 'Time (hrs)', size=LABEL_FONT)
text(829, 1315, 'Time (hrs)', size=LABEL_FONT)
text(1069, 1315, 'Time (hrs)', size=LABEL_FONT)

layout['annotations'] = annotations
layout['shapes'] = shapes
fig.update_layout(**layout)
fig.write_html("out.html")
